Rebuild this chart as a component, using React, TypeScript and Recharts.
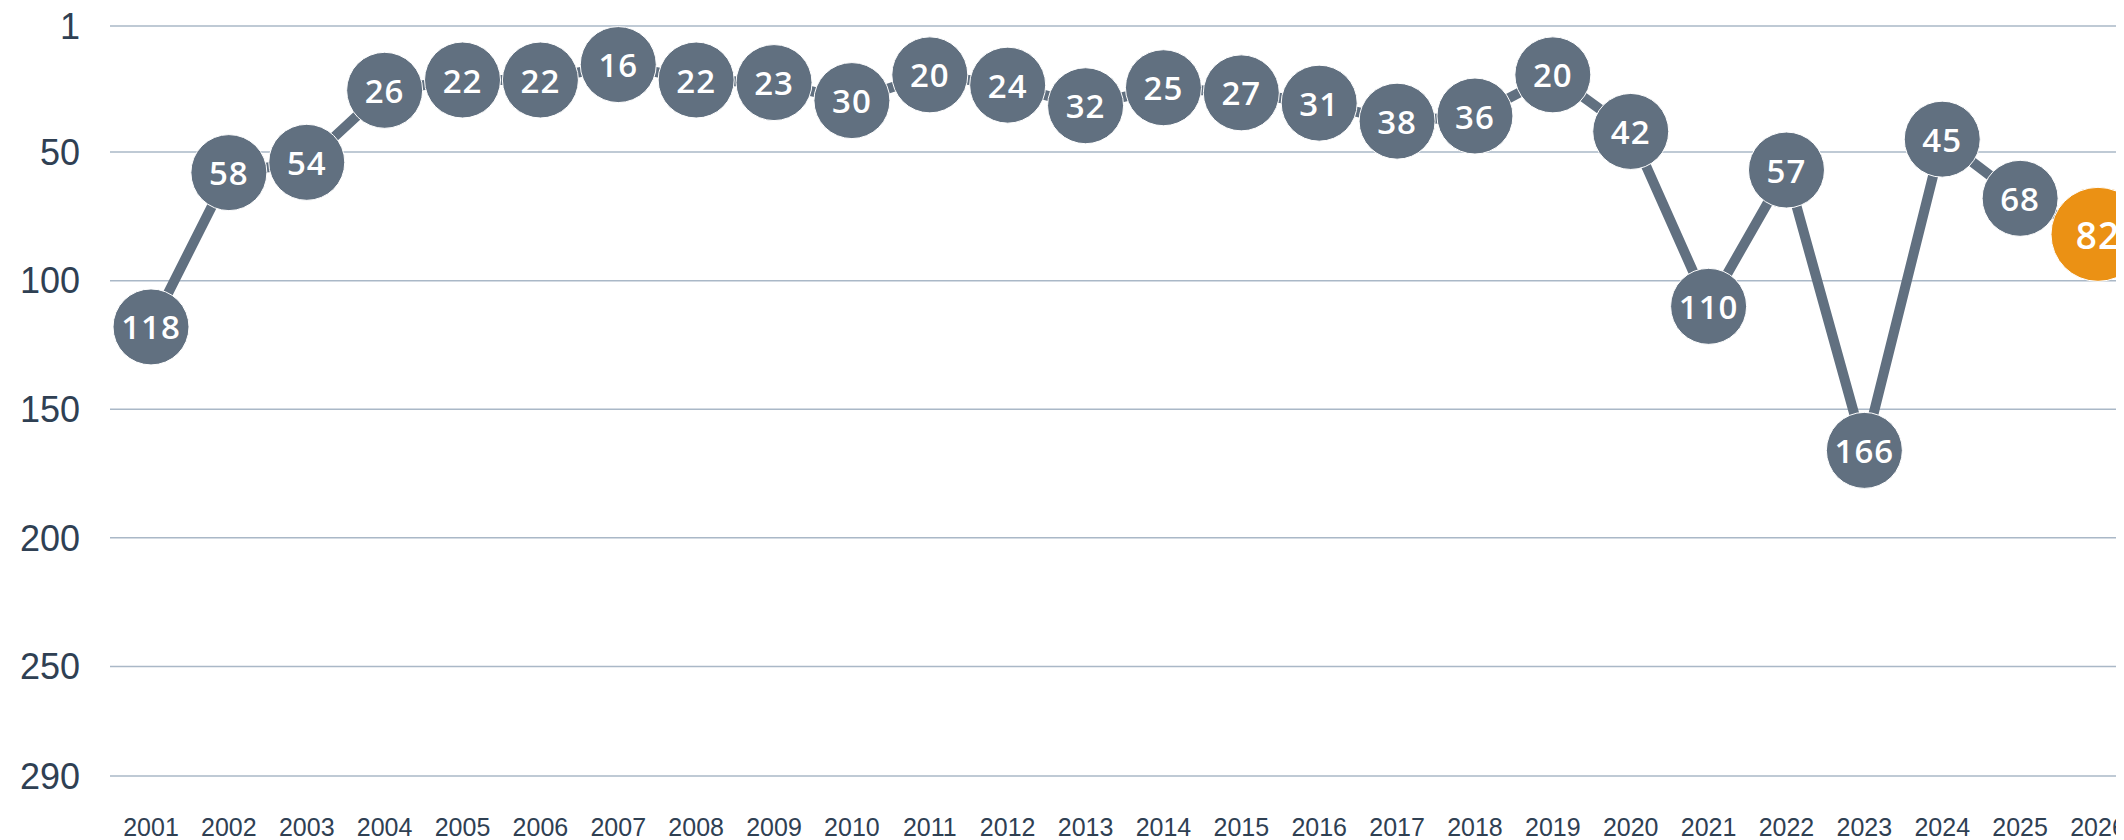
import React from "react";
import { LineChart, Line, XAxis, YAxis, CartesianGrid } from "recharts";

// Ranking per year (lower is better, so the y axis is reversed)
const years = [
  "2001", "2002", "2003", "2004", "2005", "2006", "2007", "2008", "2009",
  "2010", "2011", "2012", "2013", "2014", "2015", "2016", "2017", "2018",
  "2019", "2020", "2021", "2022", "2023", "2024", "2025", "2026",
];
const ranks = [
  118, 58, 54, 26, 22, 22, 16, 22, 23, 30, 20, 24, 32, 25, 27, 31, 38, 36,
  20, 42, 110, 57, 166, 45, 68, 82,
];
// the bottom gridline sits a little below 290 in the original, but is labelled 290
const yMin = 1;
const yMax = 292.6;
const yTicks = [1, 50, 100, 150, 200, 250, yMax];
const yTickLabels = ["1", "50", "100", "150", "200", "250", "290"];

const SLATE = "#617080";
const ORANGE = "#eb9114";
const GRID = "#aab8c7";
const TEXT = "#2f4053";

const data = years.map((year, i) => ({ year, rank: ranks[i] }));

// circle marker with the rank written inside, the latest year highlighted
const RankDot = (props: any) => {
  const { cx, cy, index, payload } = props;
  if (cx == null || cy == null) return null;
  const last = index === data.length - 1;
  const r = last ? 47 : 38;
  return (
    <g key={`dot-${index}`}>
      <circle cx={cx} cy={cy} r={r} fill={last ? ORANGE : SLATE} stroke="#fff" strokeWidth={1} />
      <text
        x={cx}
        y={cy}
        textAnchor="middle"
        dominantBaseline="central"
        fill="#fff"
        fontFamily="'Open Sans', sans-serif"
        fontWeight={600}
        letterSpacing={1}
        fontSize={last ? 37 : 33}
      >
        {payload.rank}
      </text>
    </g>
  );
};

export default function App() {
  return (
    <div style={{ width: 2116, height: 832, overflow: "hidden" }}>
      <LineChart
        width={2160}
        height={832}
        data={data}
        margin={{ top: 18, right: 0, bottom: 0, left: 0 }}
      >
        <CartesianGrid vertical={false} stroke={GRID} strokeWidth={1.5} />
        <XAxis
          dataKey="year"
          interval={0}
          height={64}
          padding={{ left: 41, right: 70 }}
          axisLine={false}
          tickLine={false}
          tickSize={0}
          tickMargin={42}
          tick={{ fill: TEXT, fontSize: 25, fontFamily: "'Liberation Sans', Arial, sans-serif" }}
        />
        <YAxis
          type="number"
          reversed
          domain={[yMin, yMax]}
          ticks={yTicks}
          interval={0}
          width={102}
          axisLine={false}
          tickLine={false}
          tickSize={0}
          tickMargin={30}
          tickFormatter={(v: number) => yTickLabels[yTicks.indexOf(v)] ?? String(v)}
          tick={{ fill: TEXT, fontSize: 36, fontFamily: "'Liberation Sans', Arial, sans-serif" }}
        />
        <Line
          type="linear"
          dataKey="rank"
          stroke={SLATE}
          strokeWidth={10}
          dot={RankDot}
          activeDot={false}
          isAnimationActive={false}
        />
      </LineChart>
    </div>
  );
}
